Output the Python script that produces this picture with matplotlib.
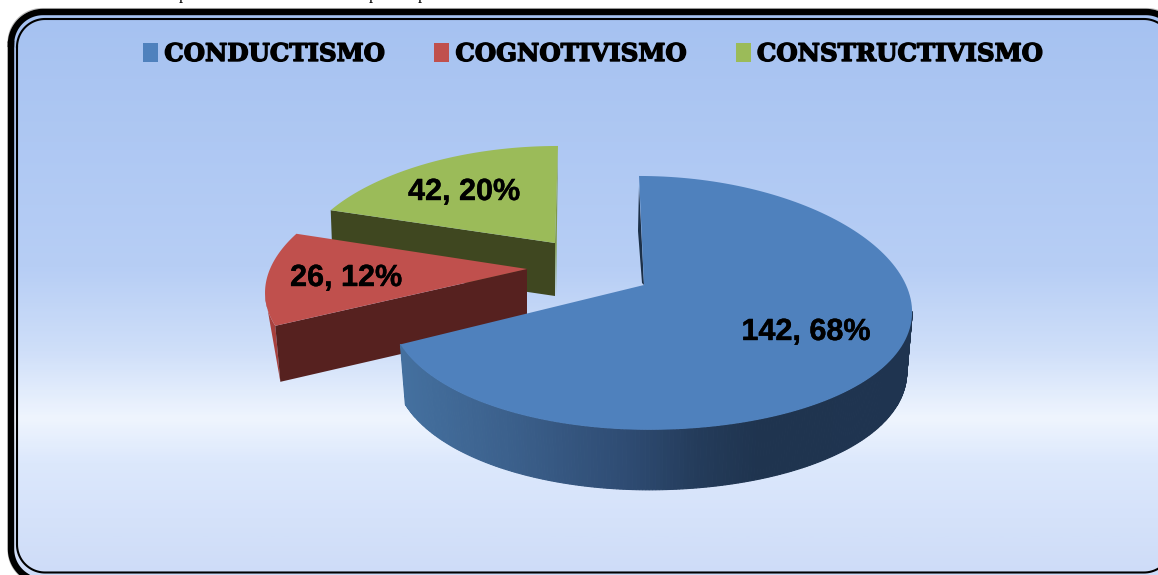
import matplotlib
matplotlib.use("Agg")
import matplotlib.patheffects as pe
import matplotlib.pyplot as plt
import numpy as np
from matplotlib.colors import LinearSegmentedColormap
from matplotlib.patches import Patch, Polygon

# valores del grafico
categorias = ["CONDUCTISMO", "COGNOTIVISMO", "CONSTRUCTIVISMO"]
valores = [142, 26, 42]
porcentajes = [68, 12, 20]
colores = ["#4F81BD", "#C0504D", "#9BBB59"]
colores_lado = ["#1C3048", "#56211F", "#3F4720"]

W, H = 1158, 575
# geometria de cada porcion: vertice, radio izq/der, radio vertical, profundidad, inclinacion
vertices = [(644, 285), (527, 269), (555, 243)]
radio_izq = [251, 257, 251]
radio_der = [262, 257, 251]
radio_y = [124.4, 119, 110.7]
prof = [60, 56, 53]
inclinacion = [-5, 0, 3]
KX, KY = 0.194, 0.141


def proyectar(ang, i, dz=0.0):
    # ang en radianes, sentido horario desde arriba
    u, v = np.sin(ang), np.cos(ang)
    r = np.where(u < 0, radio_izq[i], radio_der[i])
    esc = 1 - 0.02 * dz / prof[i]
    x = vertices[i][0] + esc * r * u / (1 + KX * v) + inclinacion[i] * v
    y = vertices[i][1] - radio_y[i] * v / (1 + KY * v) + dz
    return x, y


def tapa(i, a0, a1):
    t = np.linspace(a0, a1, 150)
    x, y = proyectar(t, i)
    xs = np.r_[vertices[i][0], x]
    ys = np.r_[vertices[i][1], y]
    return np.c_[xs, ys]


def marco(x0, y0, x1, y1, r):
    # rectangulo redondeado como polilinea cerrada
    t = np.linspace(0, np.pi / 2, 24)
    s, c = np.sin(t), np.cos(t)
    esquinas = [
        np.c_[x0 + r - r * c, y0 + r - r * s],
        np.c_[x1 - r + r * s, y0 + r - r * c],
        np.c_[x1 - r + r * c, y1 - r + r * s],
        np.c_[x0 + r - r * s, y1 - r + r * c],
    ]
    pts = np.vstack(esquinas)
    return np.vstack([pts, pts[:1]])


fig = plt.figure(figsize=(W / 100, H / 100), dpi=100)
ax = fig.add_axes([0, 0, 1, 1])
ax.set_xlim(0, W)
ax.set_ylim(H, 0)
ax.axis("off")

# resto del texto cortado arriba de la imagen
for xp in [183, 373, 422]:
    ax.text(xp, -1, "p", family="Liberation Serif", fontsize=12, ha="center", va="baseline",
            color="black", clip_on=False)

# marco con fondo degradado
fondo = LinearSegmentedColormap.from_list("fondo", [
    (0.0, "#A6C2F1"), (0.45, "#B7CEF5"), (0.6, "#CFDFF9"),
    (0.72, "#EFF5FE"), (0.8, "#DCE8FC"), (1.0, "#CEDCF8"),
])
grad = np.linspace(0, 1, 300).reshape(-1, 1)
img = ax.imshow(grad, extent=[0, W, 576, 15], cmap=fondo, aspect="auto", zorder=1)
ax.set_xlim(0, W)
ax.set_ylim(H, 0)
ext = marco(11, 12, 1178, 581, 32)
clip = Polygon(ext, transform=ax.transData, fc="none", ec="none")
ax.add_patch(clip)
img.set_clip_path(clip)
gris = marco(8, 8.5, 1181, 584, 34)
ax.plot(gris[:, 0], gris[:, 1], color="#BDBDBD", lw=0.8, zorder=2)
ax.plot(ext[:, 0], ext[:, 1], color="black", lw=4.6, zorder=3)
inte = marco(17, 19, 1172, 572.5, 28)
ax.plot(inte[:, 0], inte[:, 1], color="black", lw=1.5, zorder=3)

# angulos acumulados
total = sum(valores)
cortes = np.r_[0, np.cumsum(valores)] / total * 2 * np.pi

# verde (atras)
i = 2
a0, a1 = cortes[2], cortes[3]
xa, ya = proyectar(a0, i)
vx, vy = vertices[i]
ax.add_patch(Polygon([(xa, ya), (vx, vy), (vx, vy + prof[i]), (xa + 2, ya + prof[i])],
                     fc=colores_lado[i], ec="none", zorder=4))
xb, yb = proyectar(a1, i)
ax.add_patch(Polygon([(vx, vy), (xb, yb), (xb, yb + 5), (vx + 1, vy + prof[i])],
                     fc="#7F9A4A", ec="none", zorder=4))
ax.add_patch(Polygon(tapa(i, a0, a1), fc=colores[i], ec="none", zorder=5))

# rojo (medio)
i = 1
a0, a1 = cortes[1], cortes[2]
t = np.linspace(a0, a0 + 0.25, 30)
x, y = proyectar(t, i)
xd0, yd0 = proyectar(a0, i, prof[i])
ax.add_patch(Polygon(np.r_[np.c_[x, y], [(xd0, yd0)]], fc="#A8403D", ec="none", zorder=6))
xa, ya = proyectar(a0, i)
vx, vy = vertices[i]
ax.add_patch(Polygon([(vx, vy), (xa, ya), (xd0, yd0), (vx, vy + prof[i])],
                     fc=colores_lado[i], ec="none", zorder=7))
ax.add_patch(Polygon(tapa(i, a0, a1), fc=colores[i], ec="none", zorder=8))

# azul (delante), borde con degradado por segmentos
i = 0
a0, a1 = cortes[0], cortes[1]
borde = LinearSegmentedColormap.from_list("borde", [
    (0.0, "#1F3450"), (0.3, "#1F344F"), (0.42, "#243C5B"), (0.55, "#2E4B72"), (0.8, "#3C618D"), (1.0, "#44709F"),
])
t = np.linspace(a0, a1, 400)
x, _ = proyectar(t, i)
t = t[np.argmax(x):]   # solo la parte visible del borde
x, y = proyectar(t, i)
xd, yd = proyectar(t, i, prof[i])
x0, x1 = x.min(), x.max()
for k in range(len(t) - 1):
    c = borde((x1 - x[k]) / (x1 - x0))
    ax.add_patch(Polygon([(x[k], y[k]), (x[k + 1], y[k + 1]), (xd[k + 1], yd[k + 1]), (xd[k], yd[k])],
                         fc=c, ec=c, lw=0.8, zorder=9))
# cara interior fina arriba
xa, ya = proyectar(a0, i)
vx, vy = vertices[i]
ax.add_patch(Polygon([(xa, ya + 10), (vx, vy), (vx - 2, vy - 2), (xa - 1, ya + 55)],
                     fc=colores_lado[0], ec="none", zorder=9))
ax.add_patch(Polygon(tapa(i, a0, a1), fc=colores[i], ec="none", zorder=10))

# etiquetas
pos_etq = [(806, 332), (346, 278), (464, 192)]
for v, p, (ex, ey) in zip(valores, porcentajes, pos_etq):
    ax.text(ex, ey, f"{v}, {p}%", family="Liberation Sans", weight="bold", fontsize=22,
            ha="center", va="center", color="black", zorder=12,
            path_effects=[pe.withStroke(linewidth=0.3, foreground="black")])

# leyenda
manijas = [Patch(fc=c, ec="none") for c in colores]
ley = ax.legend(manijas, categorias, loc="upper left", bbox_to_anchor=(143 / W, 1 - 42 / H), ncol=3,
                frameon=False, prop={"family": "DejaVu Serif", "weight": "bold", "size": 17.6},
                handlelength=0.62, handleheight=0.85, handletextpad=0.25, columnspacing=2.05,
                borderpad=0, borderaxespad=0, labelspacing=0)
ley.set_zorder(12)
for txt in ley.get_texts():
    txt.set_path_effects([pe.withStroke(linewidth=1.0, foreground="black")])

fig.savefig("out.png", dpi=100)
